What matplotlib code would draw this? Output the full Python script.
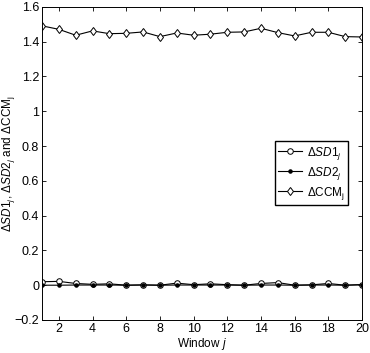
import matplotlib
matplotlib.use("Agg")
import matplotlib.pyplot as plt

plt.rcParams['font.family'] = ['Liberation Sans', 'DejaVu Sans']
plt.rcParams['mathtext.fontset'] = 'custom'
plt.rcParams['mathtext.rm'] = 'Liberation Sans'
plt.rcParams['mathtext.it'] = 'Liberation Sans:italic'

window = list(range(1, 21))
sd1 = [0.020, 0.022, 0.010, 0.005, 0.008, 0.000, 0.002, 0.000, 0.012, 0.003,
       0.008, 0.003, 0.000, 0.010, 0.015, 0.000, 0.002, 0.010, 0.000, 0.004]
sd2 = [0.000, 0.000, 0.001, 0.001, 0.001, 0.000, 0.001, 0.000, 0.001, 0.001,
       0.001, 0.001, 0.000, 0.001, 0.001, 0.000, 0.001, 0.001, 0.000, 0.002]
ccm = [1.491, 1.471, 1.437, 1.462, 1.446, 1.448, 1.456, 1.429, 1.450, 1.437,
       1.443, 1.454, 1.456, 1.477, 1.452, 1.433, 1.454, 1.454, 1.429, 1.427]

fig = plt.figure(figsize=(3.7, 3.53), dpi=100)
ax = fig.add_axes([0.1135, 0.0935, 0.865, 0.887])

ax.plot(window, sd1, color='black', lw=0.8, marker='o', ms=4,
        mfc='white', mec='black', mew=0.7, label=r'$\Delta\mathit{SD1}_j$')
ax.plot(window, sd2, color='black', lw=0.8, marker='.', ms=4.5,
        mfc='black', mec='black', label=r'$\Delta\mathit{SD2}_j$')
ax.plot(window, ccm, color='black', lw=0.8, marker='d', ms=4.5,
        mfc='white', mec='black', mew=0.7, label=r'$\Delta\mathrm{CCM}_\mathrm{j}$')

ax.set_xlim(1, 20)
ax.set_ylim(-0.2, 1.6)
ax.set_xticks(range(2, 21, 2))
ax.set_yticks([-0.2, 0, 0.2, 0.4, 0.6, 0.8, 1, 1.2, 1.4, 1.6])
ax.set_yticklabels(['\u22120.2', '0', '0.2', '0.4', '0.6', '0.8', '1', '1.2', '1.4', '1.6'])
ax.tick_params(direction='in', top=True, right=True, labelsize=9, length=3, width=0.6, pad=2)
for s in ax.spines.values():
    s.set_linewidth(0.7)

ax.set_xlabel(r'Window $j$', fontsize=8.5, labelpad=1)
ax.set_ylabel(r'$\Delta\mathit{SD1}_j$, $\Delta\mathit{SD2}_j$ and $\Delta\mathrm{CCM}_\mathrm{j}$',
              fontsize=8.5)
ax.yaxis.set_label_coords(-0.078, 0.5)

ax.legend(loc='upper right', bbox_to_anchor=(0.975, 0.59), fontsize=8.5,
          frameon=True, fancybox=False, edgecolor='black', framealpha=1,
          handlelength=2.0, borderpad=0.3, labelspacing=0.25, handletextpad=0.4)

fig.savefig('out.png', dpi=100)
